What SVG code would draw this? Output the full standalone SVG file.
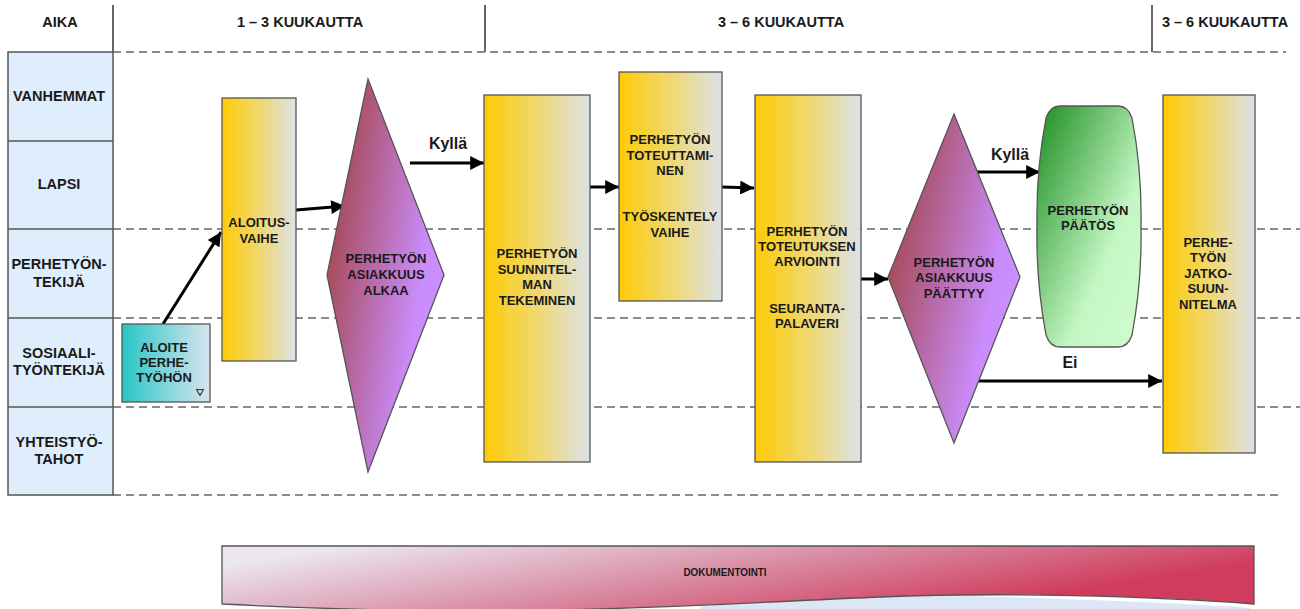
<svg xmlns="http://www.w3.org/2000/svg" width="1300" height="609" viewBox="0 0 1300 609">
<defs>
<linearGradient id="gY" x1="0" y1="0" x2="1" y2="0"><stop offset="0" stop-color="#fdcb05"/><stop offset="0.5" stop-color="#f0d86e"/><stop offset="1" stop-color="#dce2e8"/></linearGradient>
<linearGradient id="gT" x1="0" y1="0" x2="1" y2="0"><stop offset="0" stop-color="#27c6c6"/><stop offset="1" stop-color="#dae4ee"/></linearGradient>
<linearGradient id="gD" x1="0" y1="0.25" x2="1" y2="0.75"><stop offset="0.1" stop-color="#a84c5e"/><stop offset="0.75" stop-color="#c98cfa"/><stop offset="1" stop-color="#cc90ff"/></linearGradient>
<linearGradient id="gG" x1="0" y1="0" x2="1" y2="1"><stop offset="0" stop-color="#1a8c1e"/><stop offset="0.65" stop-color="#c4f7c4"/><stop offset="1" stop-color="#d0fcd0"/></linearGradient>
<linearGradient id="gR" x1="0" y1="0.3" x2="1" y2="0.7"><stop offset="0" stop-color="#ebe6f0"/><stop offset="0.45" stop-color="#d98ca4"/><stop offset="0.85" stop-color="#d03c5c"/><stop offset="1" stop-color="#d03c5c"/></linearGradient>
<marker id="ah" viewBox="0 0 10 10" refX="10" refY="5" markerWidth="5" markerHeight="4.6" orient="auto" markerUnits="strokeWidth"><path d="M0,0 L10,5 L0,10 Z" fill="#000"/></marker>
<style>
.t{font-family:"Liberation Sans",Arial,sans-serif;font-weight:bold;fill:#1a1a1a;text-anchor:middle}
.n{font-size:13px}
.l{font-size:14.5px}
.h{font-size:14.5px}
.k{font-size:16px}
.dash{stroke:#666;stroke-width:1.6;stroke-dasharray:8 5;fill:none}
.vl{stroke:#333;stroke-width:1.5}
.box{stroke:#555;stroke-width:1.3}
.arr{stroke:#000;stroke-width:3;fill:none;marker-end:url(#ah)}
</style>
</defs>
<rect width="1300" height="609" fill="#fff"/>
<g id="grid">
<line class="vl" x1="113" y1="5" x2="113" y2="52"/>
<line class="vl" x1="485" y1="5" x2="485" y2="52"/>
<line class="vl" x1="1152" y1="5" x2="1152" y2="52"/>
<line class="dash" x1="113" y1="52" x2="1286" y2="52"/>
<line class="dash" x1="113" y1="229" x2="1300" y2="229"/>
<line class="dash" x1="113" y1="318" x2="1300" y2="318"/>
<line class="dash" x1="113" y1="407" x2="1300" y2="407"/>
<line class="dash" x1="113" y1="495" x2="1282" y2="495"/>
<text class="t l" x="60" y="27">AIKA</text>
<text class="t h" x="300" y="27">1 – 3 KUUKAUTTA</text>
<text class="t h" x="781" y="27">3 – 6 KUUKAUTTA</text>
<text class="t h" x="1225" y="27">3 – 6 KUUKAUTTA</text>
</g>
<g id="lanes">
<rect x="8" y="52" width="105" height="443" fill="#dfeefc" stroke="#555" stroke-width="1.5"/>
<line x1="8" y1="141" x2="113" y2="141" stroke="#555" stroke-width="1.5"/>
<line x1="8" y1="229" x2="113" y2="229" stroke="#555" stroke-width="1.5"/>
<line x1="8" y1="318" x2="113" y2="318" stroke="#555" stroke-width="1.5"/>
<line x1="8" y1="407" x2="113" y2="407" stroke="#555" stroke-width="1.5"/>
<text class="t l" x="59" y="101">VANHEMMAT</text>
<text class="t l" x="59" y="189">LAPSI</text>
<text class="t l" x="59" y="269">PERHETYÖN-</text>
<text class="t l" x="59" y="287">TEKIJÄ</text>
<text class="t l" x="59" y="358">SOSIAALI-</text>
<text class="t l" x="59" y="375">TYÖNTEKIJÄ</text>
<text class="t l" x="59" y="447">YHTEISTYÖ-</text>
<text class="t l" x="59" y="464">TAHOT</text>
</g>
<g id="connectors">
<line class="arr" x1="163" y1="324" x2="221" y2="232"/>
<line class="arr" x1="296" y1="210" x2="345" y2="206"/>
<line class="arr" x1="410" y1="163" x2="484" y2="163"/>
<text class="t k" x="448" y="149">Kyllä</text>
<line class="arr" x1="590" y1="187" x2="619" y2="187"/>
<line class="arr" x1="722" y1="187" x2="754" y2="188"/>
<line class="arr" x1="861" y1="279" x2="888" y2="279"/>
<line class="arr" x1="977" y1="172" x2="1040" y2="172"/>
<text class="t k" x="1010" y="160">Kyllä</text>
<line class="arr" x1="978" y1="381" x2="1162" y2="381"/>
<text class="t k" x="1070" y="368">Ei</text>
</g>
<g id="aloite">
<rect class="box" x="122" y="324" width="88" height="78" fill="url(#gT)"/>
<text class="t n" x="164" y="352">ALOITE</text>
<text class="t n" x="164" y="367">PERHE-</text>
<text class="t n" x="164" y="382">TYÖHÖN</text>
<path d="M196.5,389.5 L203.5,389.5 L200,395.5 Z" fill="none" stroke="#333" stroke-width="1.2" stroke-linejoin="round"/>
</g>
<g id="aloitusvaihe">
<rect class="box" x="222" y="98" width="74" height="263" fill="url(#gY)"/>
<text class="t n" x="259" y="227">ALOITUS-</text>
<text class="t n" x="259" y="243">VAIHE</text>
</g>
<g id="asiakkuus-alkaa">
<polygon class="box" points="368,79 444,275 368,472 327,275" fill="url(#gD)"/>
<text class="t n" x="386" y="263">PERHETYÖN</text>
<text class="t n" x="386" y="279">ASIAKKUUS</text>
<text class="t n" x="386" y="295">ALKAA</text>
</g>
<g id="suunnitelma">
<rect class="box" x="484" y="95" width="106" height="367" fill="url(#gY)"/>
<text class="t n" x="537" y="258">PERHETYÖN</text>
<text class="t n" x="537" y="274">SUUNNITEL-</text>
<text class="t n" x="537" y="289">MAN</text>
<text class="t n" x="537" y="305">TEKEMINEN</text>
</g>
<g id="toteuttaminen">
<rect class="box" x="619" y="72" width="103" height="229" fill="url(#gY)"/>
<text class="t n" x="670" y="144">PERHETYÖN</text>
<text class="t n" x="670" y="160">TOTEUTTAMI-</text>
<text class="t n" x="670" y="175">NEN</text>
<text class="t n" x="670" y="221">TYÖSKENTELY</text>
<text class="t n" x="670" y="237">VAIHE</text>
</g>
<g id="arviointi">
<rect class="box" x="755" y="95" width="106" height="367" fill="url(#gY)"/>
<text class="t n" x="807" y="236">PERHETYÖN</text>
<text class="t n" x="807" y="251">TOTEUTUKSEN</text>
<text class="t n" x="807" y="266">ARVIOINTI</text>
<text class="t n" x="807" y="313">SEURANTA-</text>
<text class="t n" x="807" y="328">PALAVERI</text>
</g>
<g id="asiakkuus-paattyy">
<polygon class="box" points="954,114 1020,277 954,443 888,277" fill="url(#gD)"/>
<text class="t n" x="954" y="267">PERHETYÖN</text>
<text class="t n" x="954" y="282">ASIAKKUUS</text>
<text class="t n" x="954" y="298">PÄÄTTYY</text>
</g>
<g id="paatos">
<path class="box" d="M1060,106 L1118,106 Q1128,106 1132,118 Q1142,170 1141,226 Q1142,282 1132,335 Q1128,347 1118,347 L1060,347 Q1050,347 1046,335 Q1036,282 1037,226 Q1036,170 1046,118 Q1050,106 1060,106 Z" fill="url(#gG)"/>
<text class="t n" x="1088" y="215">PERHETYÖN</text>
<text class="t n" x="1088" y="230">PÄÄTÖS</text>
</g>
<g id="jatkosuunnitelma">
<rect class="box" x="1163" y="95" width="92" height="358" fill="url(#gY)"/>
<text class="t n" x="1208" y="247">PERHE-</text>
<text class="t n" x="1208" y="262">TYÖN</text>
<text class="t n" x="1208" y="278">JATKO-</text>
<text class="t n" x="1208" y="293">SUUN-</text>
<text class="t n" x="1208" y="309">NITELMA</text>
</g>
<g id="dokumentointi">
<path d="M700,606 C800,596 900,594 1000,597 C1100,600 1200,604 1250,608 L1250,609 L700,609 Z" fill="#dce6f4"/>
<path d="M222,546 L1254,546 L1254,604 C1150,596 1000,592 880,597 C760,602 600,612 450,611 C350,610 280,607 222,604 Z" fill="url(#gR)" stroke="#555" stroke-width="1.3"/>
<text class="t" x="725" y="576" style="font-size:11.5px" textLength="83" lengthAdjust="spacingAndGlyphs">DOKUMENTOINTI</text>
</g>
</svg>
